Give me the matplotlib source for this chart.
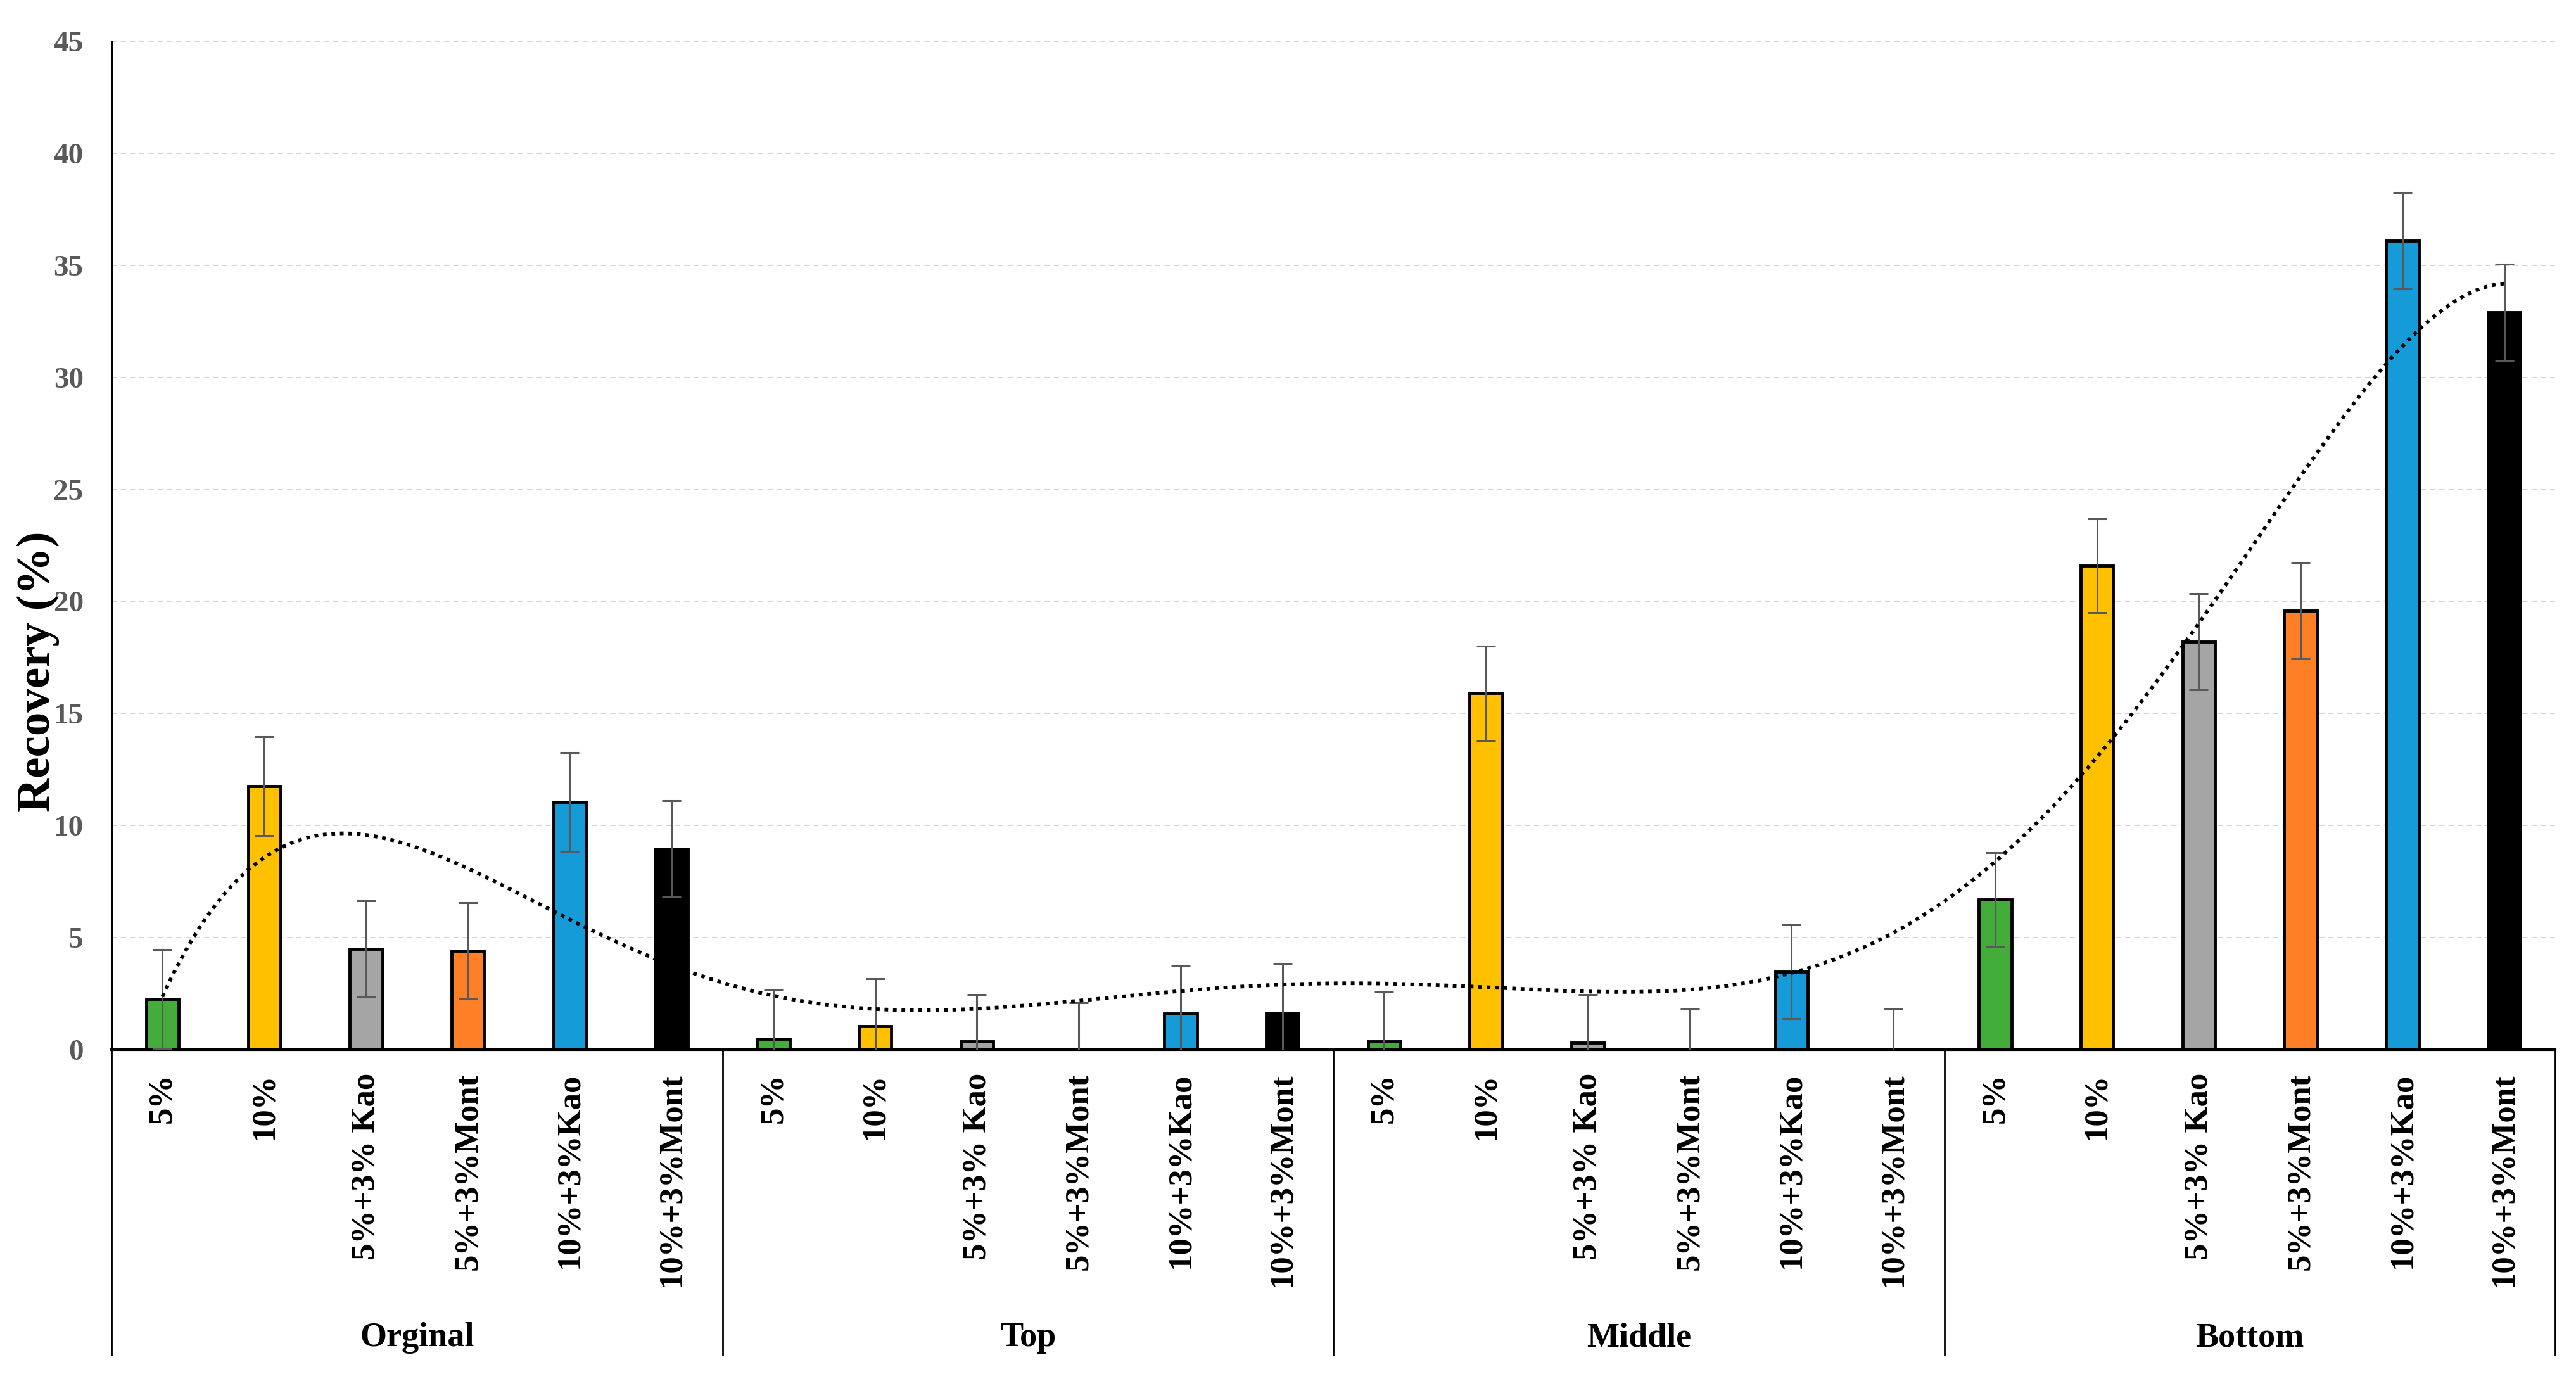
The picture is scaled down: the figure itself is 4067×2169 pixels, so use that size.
import matplotlib
matplotlib.use("Agg")
import matplotlib.pyplot as plt
import matplotlib.transforms as mtransforms
import numpy as np

plt.rcParams['font.family'] = ['Liberation Serif', 'DejaVu Serif']
plt.rcParams['font.weight'] = 'bold'

groups = ["Orginal", "Top", "Middle", "Bottom"]
treatments = ["5%", "10%", "5%+3% Kao", "5%+3%Mont", "10%+3%Kao", "10%+3%Mont"]
colors = ["#43AC3B", "#FFC000", "#A5A5A5", "#FF7F27", "#159BD7", "#000000"]

orginal = [2.25, 11.75, 4.5, 4.4, 11.05, 8.95]
top = [0.47, 1.05, 0.36, 0.0, 1.62, 1.65]
middle = [0.36, 15.9, 0.3, 0.0, 3.47, 0.0]
bottom = [6.7, 21.6, 18.2, 19.6, 36.1, 32.9]

err_orginal = [2.2, 2.2, 2.15, 2.15, 2.2, 2.15]
err_top = [2.2, 2.1, 2.1, 2.1, 2.1, 2.2]
err_middle = [2.2, 2.1, 2.15, 1.8, 2.1, 1.8]
err_bottom = [2.1, 2.1, 2.15, 2.15, 2.15, 2.15]

values = np.array(orginal + top + middle + bottom)
errors = np.array(err_orginal + err_top + err_middle + err_bottom)
labels = treatments * len(groups)
bar_colors = colors * len(groups)
x = np.arange(len(values))

fig = plt.figure(figsize=(40.67, 21.69), dpi=100)
ax = fig.add_axes([0.0433, 0.2361, 0.9486, 0.7339])

ax.set_axisbelow(True)
ax.yaxis.grid(True, color="#D4D4D4", linestyle=(0, (4, 3)), linewidth=1.5)

ax.bar(x, values, width=0.32, color=bar_colors, edgecolor="black", linewidth=3.5, zorder=2)
ax.errorbar(x, values, yerr=errors, fmt="none", ecolor="#595959", elinewidth=2.2,
            capsize=11, capthick=2.2, zorder=3)

# polynomial trendline (order 6) like the spreadsheet one
xt = x + 1
coef = np.polyfit(xt, values, 6)
xs = np.linspace(xt[0], xt[-1], 400)
ax.plot(xs - 1, np.polyval(coef, xs), color="black", linewidth=4.2,
        linestyle=(0, (1, 1.3)), zorder=4)

ax.set_xlim(-0.5, len(values) - 0.5)
ax.set_ylim(0, 45)
ax.set_yticks(np.arange(0, 46, 5))
ax.tick_params(axis="y", length=0, pad=32, labelsize=34, labelcolor="#595959")
ax.set_xticks([])

for s in ["top", "right"]:
    ax.spines[s].set_visible(False)
ax.spines["left"].set_linewidth(2.2)
ax.spines["bottom"].set_linewidth(3)

trans = mtransforms.blended_transform_factory(ax.transData, ax.transAxes)
for xi, lab in zip(x, labels):
    ax.text(xi, -0.023, lab, transform=trans, rotation=90, ha="center", va="top",
            fontsize=38, fontweight="bold")

n = len(treatments)
for gi, g in enumerate(groups):
    ax.text(gi * n + (n - 1) / 2, -0.286, g, transform=trans, ha="center", va="center",
            fontsize=39, fontweight="bold")

for b in np.arange(len(groups) + 1) * n - 0.5:
    ax.plot([b, b], [0, -0.303], transform=trans, color="black", linewidth=2,
            clip_on=False)

fig.text(0.0148, 0.511, "Recovery (%)", rotation=90, ha="center", va="center",
         fontsize=54, fontweight="bold")

fig.savefig("out.png", dpi=100, facecolor="white")
